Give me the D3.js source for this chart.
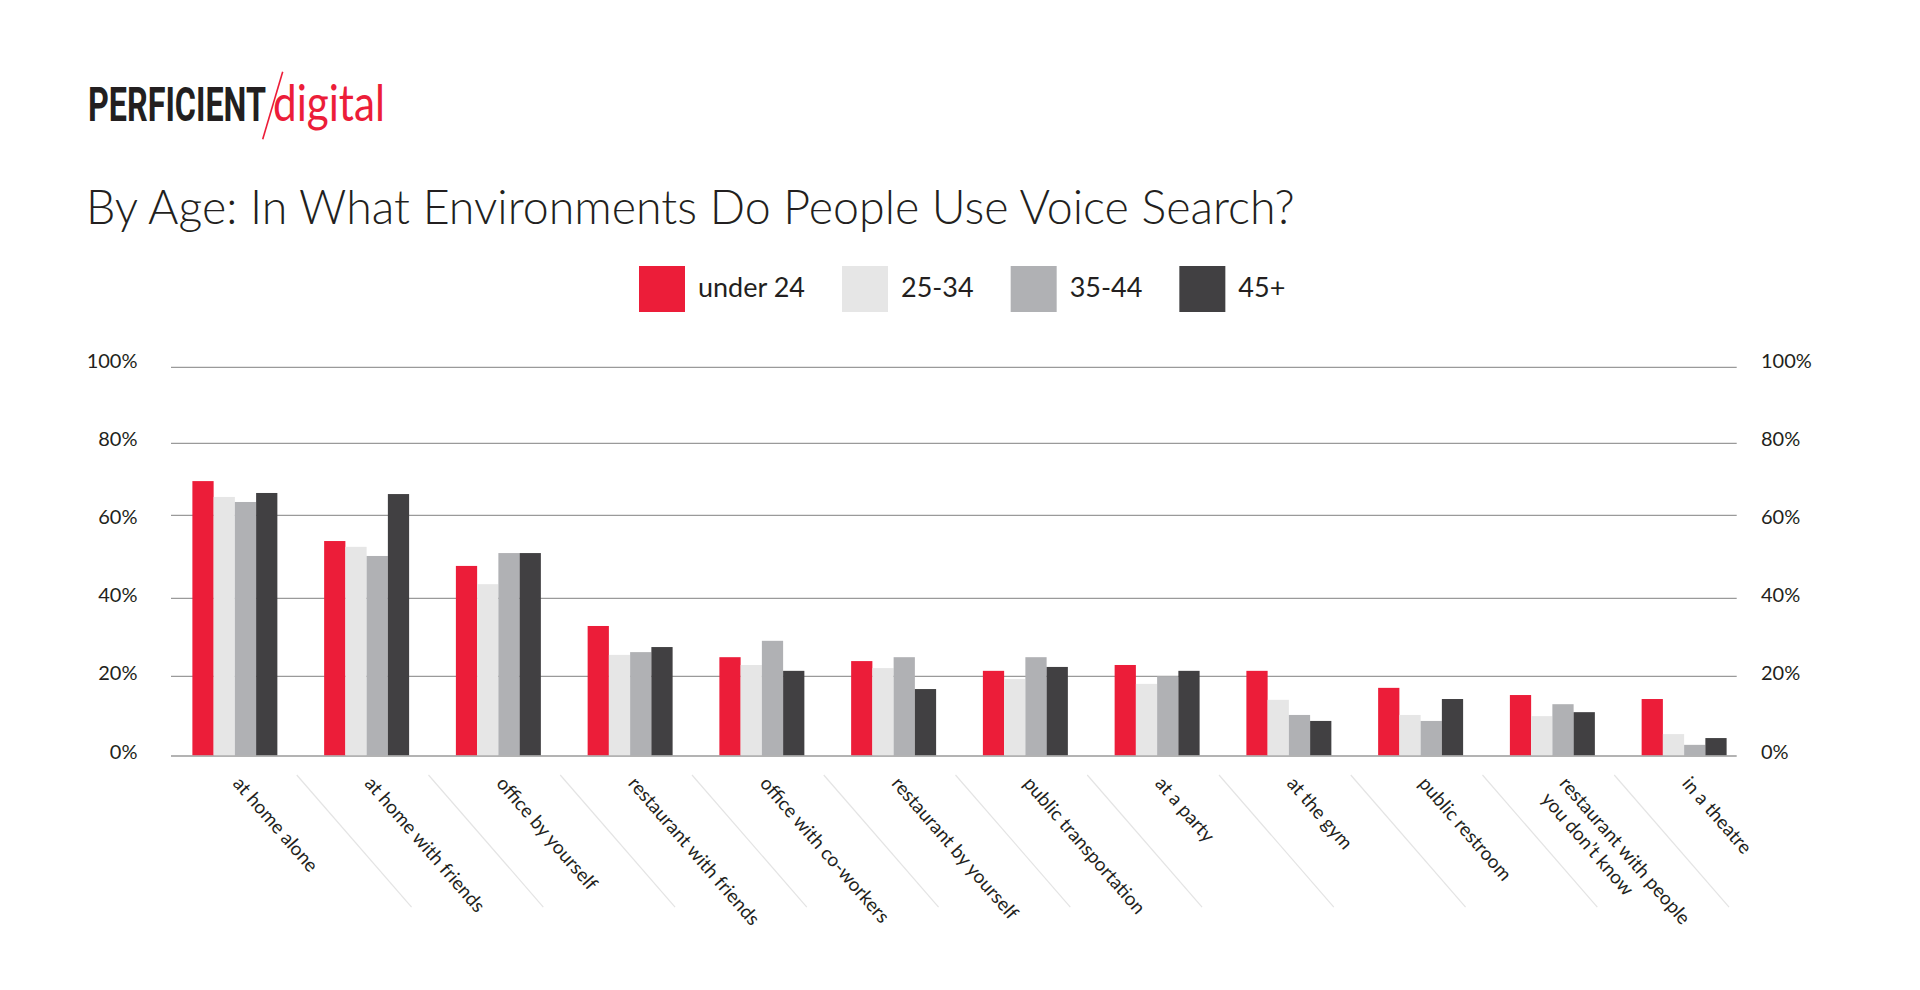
<!DOCTYPE html>
<html>
<head>
<meta charset="utf-8">
<script src="https://cdn.jsdelivr.net/npm/d3@7"></script>
<style>
  html, body { margin: 0; padding: 0; background: #ffffff; }
  svg { display: block; }
</style>
</head>
<body>
<script>
// ---- data ----
const categories = [
  "at home alone", "at home with friends", "office by yourself",
  "restaurant with friends", "office with co-workers", "restaurant by yourself",
  "public transportation", "at a party", "at the gym", "public restroom",
  "restaurant with people\nyou don’t know", "in a theatre"
];
const seriesNames = ["under 24", "25-34", "35-44", "45+"];
const under24   = [69.5, 53.8, 47.8, 32.9, 24.9, 23.9, 21.4, 22.9, 21.4, 17.1, 15.3, 14.3];
const age25to34 = [65.1, 52.4, 43.4, 25.5, 22.9, 22.1, 19.3, 18.1, 14.1, 10.3, 10.0, 5.5];
const age35to44 = [63.7, 50.2, 50.9, 26.2, 29.1, 24.9, 24.9, 20.0, 10.3, 8.8, 13.0, 2.8];
const age45plus = [66.2, 65.9, 50.9, 27.5, 21.4, 16.8, 22.4, 21.4, 8.8, 14.3, 11.0, 4.5];
const yTicks = [0, 20, 40, 60, 80, 100];
const yTickLabels = ["0%", "20%", "40%", "60%", "80%", "100%"];
const titleText = "By Age: In What Environments Do People Use Voice Search?";
const seriesColors = ["#ec1d39", "#e6e6e6", "#b0b1b4", "#414042"];

const seriesValues = [under24, age25to34, age35to44, age45plus];
const rows = categories.map((c, i) => ({ cat: c, values: seriesValues.map((s, k) => ({ key: seriesNames[k], v: s[i] })) }));

// ---- layout ----
const W = 1920, H = 990;
const textColor = "#231f20";
const svg = d3.select("body").append("svg").attr("width", W).attr("height", H);

const x0 = d3.scaleBand().domain(categories).range([169, 1750]).paddingInner(0.355).paddingOuter(0.1775);
const x1 = d3.scaleBand().domain(seriesNames).range([0, x0.bandwidth()]);
// gridlines in the source are not evenly spaced; follow them with a polylinear scale
const y = d3.scaleLinear().domain(yTicks).range([756, 676.3, 598.3, 515.3, 443.3, 367.3]);
const yLabel = d3.scaleLinear().domain([0, 100]).range([758.5, 367.5]);
const color = d3.scaleOrdinal().domain(seriesNames).range(seriesColors);

// ---- logo ----
const logo = svg.append("g");
function fitText(txt, x, yb, width, attrs) {
  const t = logo.append("text").attr("x", 0).attr("y", 0).text(txt);
  Object.entries(attrs).forEach(([k, v]) => t.attr(k, v));
  const w = t.node().getComputedTextLength();
  t.attr("transform", `translate(${x},${yb}) scale(${width / w},1)`);
  return t;
}
fitText("PERFICIENT", 88, 121, 178, {
  "font-family": "'Liberation Sans Narrow', 'Roboto', sans-serif",
  "font-weight": 700, "font-size": 48, "fill": textColor
});
fitText("digital", 273, 121, 112, {
  "font-family": "Lato, sans-serif", "font-weight": 400, "font-size": 50, "fill": seriesColors[0]
});
logo.append("line").attr("x1", 282.7).attr("y1", 71.7).attr("x2", 262.7).attr("y2", 139.3)
  .attr("stroke", seriesColors[0]).attr("stroke-width", 1.6);

// ---- title ----
const title = svg.append("text").attr("x", 86).attr("y", 224)
  .attr("font-family", "Lato, sans-serif").attr("font-weight", 300).attr("font-size", 44)
  .attr("fill", textColor).text(titleText);
const tw = title.node().getComputedTextLength();
title.attr("font-size", 44 * 1209 / tw);

// ---- legend ----
const legend = svg.append("g");
let lx = 639;
seriesNames.forEach((name, k) => {
  legend.append("rect").attr("x", lx).attr("y", 266).attr("width", 46).attr("height", 46)
    .attr("fill", color(name));
  const t = legend.append("text").attr("x", lx + 59).attr("y", 297)
    .attr("font-family", "Lato, sans-serif").attr("font-weight", 400).attr("font-size", 27)
    .attr("fill", textColor).text(name);
  lx += 59 + t.node().getComputedTextLength() + 37;
});

// ---- gridlines ----
const grid = svg.append("g");
grid.selectAll("line").data(yTicks).join("line")
  .attr("x1", 171).attr("x2", 1736.7)
  .attr("y1", d => y(d)).attr("y2", d => y(d))
  .attr("stroke", "#9a9a9a").attr("stroke-width", 1.3);

// axis labels left / right
const labG = svg.append("g").attr("font-family", "Lato, sans-serif").attr("font-size", 20).attr("fill", textColor);
labG.selectAll("text.l").data(yTicks).join("text").attr("class", "l")
  .attr("x", 137.5).attr("y", d => yLabel(d)).attr("text-anchor", "end")
  .text((d, i) => yTickLabels[i]);
labG.selectAll("text.r").data(yTicks).join("text").attr("class", "r")
  .attr("x", 1761).attr("y", d => yLabel(d)).attr("text-anchor", "start")
  .text((d, i) => yTickLabels[i]);

// ---- bars ----
const groups = svg.append("g").selectAll("g").data(rows).join("g")
  .attr("transform", d => `translate(${x0(d.cat)},0)`);
groups.selectAll("rect").data(d => d.values).join("rect")
  .attr("x", d => x1(d.key)).attr("width", x1.bandwidth())
  .attr("y", d => y(d.v)).attr("height", d => y(0) - 0.8 - y(d.v))
  .attr("fill", d => color(d.key));

// ---- category separators ----
const ang = 49 * Math.PI / 180;
const sepLen = 175;
const step = x0.step();
const sepG = svg.append("g");
sepG.selectAll("line").data(categories.slice(0, -1)).join("line")
  .attr("x1", d => x0(d) + x0.bandwidth() + (step - x0.bandwidth()) / 2 - 4)
  .attr("y1", 775)
  .attr("x2", d => x0(d) + x0.bandwidth() + (step - x0.bandwidth()) / 2 - 4 + sepLen * Math.cos(ang))
  .attr("y2", 775 + sepLen * Math.sin(ang))
  .attr("stroke", "#e4e4e4").attr("stroke-width", 1.2);

// ---- category labels ----
const catG = svg.append("g").attr("font-family", "Lato, sans-serif").attr("font-size", 19).attr("fill", textColor);
categories.forEach(c => {
  const lines = c.split("\n");
  const ax = x0(c) + x0.bandwidth() / 2 - 3 + (lines.length - 1) * 9;
  const t = catG.append("text")
    .attr("transform", `translate(${ax},784) rotate(49)`);
  lines.forEach((ln, k) => {
    t.append("tspan").attr("x", 0).attr("dy", k === 0 ? 0 : "1.25em").text(ln);
  });
});
</script>
</body>
</html>
